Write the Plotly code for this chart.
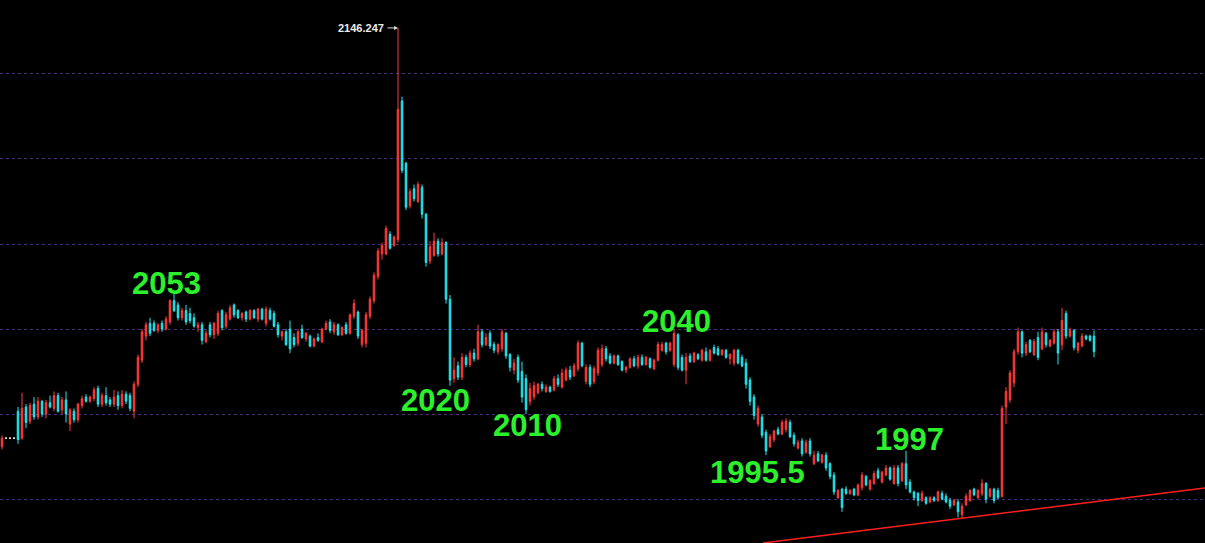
import plotly.graph_objects as go

# Data (prices, one candle per bar)
opens = [
    1998.5, 2001.5, 2001.5, 2001.5, 2011.0, 2001.5, 2012.5, 2007.5, 2013.5, 2009.0,
    2014.5, 2010.0, 2014.0, 2012.0, 2016.5, 2011.5, 2015.0, 2006.5, 2011.0, 2008.0,
    2013.0, 2016.0, 2014.5, 2015.5, 2019.0, 2013.5, 2016.5, 2015.0, 2013.5, 2016.5,
    2013.0, 2017.0, 2016.5, 2011.0, 2020.5, 2029.0, 2037.5, 2042.0, 2042.0, 2039.5,
    2042.0, 2040.0, 2042.5, 2050.0, 2048.5, 2044.0, 2046.5, 2045.5, 2044.0, 2040.5,
    2041.5, 2035.5, 2041.5, 2038.0, 2038.5, 2046.5, 2041.0, 2043.5, 2048.5, 2046.5,
    2044.0, 2046.0, 2043.5, 2046.5, 2043.5, 2047.0, 2042.0, 2046.5, 2045.5, 2041.5,
    2037.5, 2039.0, 2040.0, 2037.0, 2035.0, 2040.0, 2036.5, 2037.5, 2034.0, 2037.0,
    2035.5, 2040.0, 2042.5, 2039.0, 2041.5, 2038.0, 2041.5, 2038.5, 2044.5, 2046.0,
    2034.5, 2035.0, 2044.5, 2050.0, 2058.5, 2066.5, 2066.5, 2073.5, 2069.5, 2071.5,
    2120.5, 2098.5, 2083.5, 2089.5, 2085.0, 2090.0, 2080.5, 2064.0, 2066.0, 2071.0,
    2066.5, 2070.5, 2050.5, 2022.5, 2027.0, 2023.0, 2030.0, 2027.5, 2031.5, 2029.5,
    2039.0, 2034.5, 2038.5, 2034.5, 2032.0, 2033.0, 2038.5, 2031.0, 2025.5, 2030.0,
    2025.0, 2022.5, 2014.5, 2016.0, 2017.5, 2020.5, 2018.0, 2019.5, 2018.5, 2022.5,
    2019.5, 2022.0, 2025.5, 2023.5, 2026.0, 2035.0, 2021.5, 2026.5, 2021.5, 2024.5,
    2027.5, 2033.0, 2030.5, 2028.0, 2030.5, 2028.5, 2025.5, 2026.5, 2029.5, 2027.0,
    2030.0, 2027.5, 2029.5, 2026.0, 2029.0, 2032.5, 2035.0, 2032.5, 2027.5, 2038.0,
    2030.0, 2025.5, 2030.5, 2028.5, 2031.0, 2029.0, 2032.0, 2029.0, 2033.5, 2033.0,
    2031.0, 2032.5, 2029.5, 2028.0, 2032.5, 2030.0, 2028.0, 2022.0, 2016.0, 2006.5,
    2009.0, 2003.5, 1998.5, 2001.0, 2004.5, 2003.0, 2004.5, 2007.0, 2002.5, 1998.0,
    2000.5, 1996.5, 2000.5, 1992.5, 1996.0, 1993.0, 1995.5, 1992.5, 1988.5, 1980.5,
    1983.5, 1983.5, 1982.0, 1983.5, 1981.5, 1984.0, 1988.0, 1983.5, 1985.5, 1990.0,
    1986.0, 1988.5, 1991.0, 1985.5, 1991.0, 1986.5, 1992.5, 1986.0, 1982.5, 1982.0,
    1979.5, 1980.5, 1979.0, 1980.5, 1979.5, 1982.0, 1981.0, 1979.5, 1978.0, 1979.0,
    1974.5, 1978.0, 1979.5, 1983.5, 1980.5, 1982.0, 1985.5, 1981.0, 1983.5, 1983.0,
    1981.0, 2012.5, 2015.0, 2021.0, 2032.0, 2039.0, 2031.5, 2036.0, 2031.0, 2037.0,
    2033.0, 2038.5, 2034.0, 2035.0, 2039.0, 2034.5, 2045.5, 2037.5, 2039.5, 2032.5,
    2034.0, 2037.5, 2037.5, 2037.5,
]
highs = [
    2002.5, 2001.5, 2001.5, 2001.5, 2012.5, 2017.5, 2013.5, 2014.0, 2016.0, 2016.0,
    2015.0, 2015.0, 2016.5, 2018.0, 2017.5, 2016.0, 2018.0, 2012.0, 2012.0, 2014.0,
    2016.5, 2017.0, 2016.5, 2019.5, 2020.0, 2017.5, 2019.5, 2016.0, 2018.5, 2018.0,
    2018.5, 2018.0, 2017.5, 2021.5, 2031.0, 2040.0, 2042.5, 2044.0, 2043.0, 2042.0,
    2043.0, 2044.5, 2050.5, 2053.0, 2049.5, 2047.5, 2048.5, 2047.5, 2045.5, 2042.5,
    2042.5, 2039.5, 2042.5, 2042.5, 2046.5, 2047.0, 2046.0, 2048.5, 2049.0, 2047.0,
    2046.0, 2046.5, 2047.0, 2047.0, 2047.5, 2047.5, 2048.0, 2047.5, 2046.5, 2042.5,
    2039.5, 2040.0, 2043.0, 2038.5, 2040.0, 2041.5, 2039.0, 2038.0, 2037.0, 2038.5,
    2040.5, 2043.0, 2043.5, 2042.5, 2042.0, 2041.0, 2042.5, 2045.5, 2050.5, 2046.5,
    2040.0, 2046.0, 2051.5, 2060.0, 2068.5, 2070.5, 2076.5, 2074.5, 2073.0, 2146.247,
    2122.0, 2099.0, 2089.5, 2091.0, 2092.0, 2091.0, 2081.0, 2071.0, 2074.0, 2072.0,
    2072.0, 2071.0, 2052.0, 2030.0, 2028.5, 2031.5, 2031.0, 2032.5, 2033.0, 2041.5,
    2040.0, 2038.5, 2039.5, 2035.5, 2035.0, 2040.0, 2039.0, 2031.5, 2029.5, 2031.0,
    2028.5, 2024.0, 2021.0, 2021.5, 2021.0, 2021.5, 2020.5, 2020.0, 2023.5, 2024.0,
    2026.0, 2026.5, 2027.0, 2028.0, 2036.0, 2035.5, 2027.5, 2027.5, 2027.0, 2033.5,
    2034.5, 2034.0, 2031.5, 2031.0, 2031.0, 2029.0, 2027.0, 2030.0, 2030.5, 2031.0,
    2031.0, 2030.5, 2030.0, 2029.5, 2035.5, 2035.5, 2035.5, 2035.5, 2040.0, 2038.5,
    2031.0, 2031.5, 2031.5, 2032.0, 2031.5, 2033.0, 2033.5, 2033.0, 2034.5, 2034.0,
    2033.0, 2033.0, 2031.5, 2033.0, 2033.0, 2031.0, 2029.5, 2023.0, 2017.0, 2013.0,
    2010.0, 2004.5, 2003.0, 2004.5, 2005.5, 2008.0, 2008.5, 2008.0, 2003.5, 2001.0,
    2001.5, 2001.0, 2001.5, 1997.0, 1997.0, 1996.0, 1996.5, 1993.0, 1989.5, 1983.5,
    1984.0, 1984.5, 1983.5, 1984.0, 1985.5, 1989.5, 1988.5, 1987.0, 1990.0, 1991.0,
    1990.0, 1992.0, 1991.5, 1992.0, 1992.0, 1993.0, 1997.0, 1987.0, 1983.0, 1982.5,
    1983.0, 1981.0, 1981.0, 1981.0, 1983.0, 1983.0, 1982.0, 1980.5, 1980.0, 1980.0,
    1978.5, 1982.0, 1983.5, 1984.0, 1983.5, 1987.0, 1986.0, 1984.0, 1984.0, 1984.0,
    2013.0, 2019.5, 2025.5, 2033.0, 2040.5, 2039.5, 2035.5, 2036.5, 2036.5, 2039.0,
    2040.5, 2039.0, 2036.5, 2040.0, 2040.0, 2047.5, 2046.5, 2040.5, 2040.0, 2035.5,
    2038.5, 2038.0, 2038.0, 2039.5,
]
lows = [
    1997.5, 2001.5, 2001.5, 2001.5, 1999.5, 2001.0, 2005.0, 2006.5, 2008.0, 2008.0,
    2009.0, 2008.5, 2012.0, 2011.0, 2010.5, 2010.0, 2007.0, 2004.0, 2007.0, 2007.0,
    2012.0, 2014.0, 2014.0, 2014.5, 2012.5, 2012.5, 2013.0, 2012.5, 2012.5, 2011.5,
    2012.0, 2013.5, 2011.0, 2008.5, 2019.5, 2028.0, 2036.0, 2037.5, 2039.0, 2038.5,
    2039.0, 2039.5, 2041.5, 2046.0, 2043.0, 2043.0, 2041.5, 2042.0, 2040.5, 2039.0,
    2034.5, 2035.0, 2037.0, 2036.5, 2037.5, 2039.5, 2040.0, 2043.0, 2044.0, 2043.5,
    2043.0, 2042.5, 2043.0, 2043.5, 2042.5, 2043.0, 2041.0, 2043.0, 2040.5, 2037.0,
    2036.0, 2034.0, 2031.5, 2033.5, 2034.0, 2036.5, 2035.5, 2033.5, 2033.5, 2035.5,
    2035.0, 2039.5, 2038.5, 2038.0, 2037.5, 2037.5, 2038.0, 2038.0, 2043.5, 2036.5,
    2033.5, 2033.5, 2043.5, 2049.0, 2057.5, 2064.5, 2066.0, 2068.0, 2069.0, 2070.5,
    2095.0, 2082.0, 2082.5, 2085.0, 2084.5, 2079.0, 2062.0, 2063.0, 2065.5, 2065.5,
    2066.0, 2049.0, 2020.0, 2021.0, 2022.0, 2022.0, 2026.5, 2026.5, 2028.5, 2029.0,
    2033.5, 2034.0, 2033.0, 2031.5, 2031.0, 2032.0, 2029.5, 2025.0, 2024.0, 2021.0,
    2014.0, 2010.0, 2013.0, 2015.0, 2017.0, 2018.0, 2017.5, 2017.5, 2018.0, 2019.5,
    2019.0, 2021.5, 2022.0, 2023.0, 2025.0, 2026.5, 2020.5, 2019.5, 2020.5, 2023.5,
    2026.5, 2028.5, 2027.5, 2027.5, 2027.0, 2025.0, 2024.5, 2026.0, 2026.5, 2026.0,
    2027.0, 2027.0, 2026.0, 2025.5, 2028.5, 2032.0, 2031.0, 2032.0, 2026.5, 2025.5,
    2025.0, 2020.5, 2028.0, 2028.0, 2029.0, 2028.5, 2028.5, 2028.5, 2031.0, 2030.5,
    2030.5, 2029.5, 2027.5, 2027.0, 2027.5, 2026.5, 2019.0, 2013.0, 2008.0, 2005.5,
    2001.5, 1995.5, 1998.0, 2000.0, 2002.5, 2002.5, 2003.5, 2001.5, 1998.5, 1997.5,
    1995.0, 1996.0, 1995.0, 1992.0, 1993.0, 1992.5, 1990.0, 1987.0, 1981.5, 1980.0,
    1975.5, 1981.5, 1981.5, 1981.0, 1981.0, 1983.0, 1984.5, 1983.0, 1985.0, 1987.0,
    1985.5, 1988.0, 1986.5, 1985.0, 1984.5, 1986.0, 1983.5, 1982.0, 1979.5, 1977.5,
    1979.0, 1978.0, 1978.5, 1979.0, 1979.0, 1979.5, 1978.5, 1976.5, 1977.5, 1973.5,
    1973.0, 1977.5, 1979.0, 1981.0, 1980.0, 1981.0, 1978.5, 1980.5, 1978.5, 1980.0,
    1980.5, 2006.5, 2014.0, 2019.5, 2031.0, 2030.0, 2030.5, 2031.5, 2030.5, 2029.0,
    2032.5, 2033.5, 2033.5, 2034.5, 2027.5, 2032.5, 2036.5, 2037.0, 2032.5, 2031.5,
    2033.5, 2036.0, 2035.5, 2030.0,
]
closes = [
    2001.5, 2001.5, 2001.5, 2001.5, 2001.0, 2012.0, 2007.0, 2013.0, 2009.0, 2014.5,
    2010.0, 2014.0, 2012.5, 2016.5, 2011.0, 2015.0, 2010.0, 2011.5, 2008.0, 2013.5,
    2015.5, 2014.5, 2016.0, 2018.5, 2013.5, 2016.5, 2014.0, 2013.5, 2016.0, 2013.0,
    2017.0, 2014.5, 2012.0, 2020.5, 2030.0, 2039.0, 2041.5, 2038.5, 2039.5, 2041.5,
    2040.0, 2043.5, 2050.0, 2046.5, 2044.0, 2046.5, 2042.5, 2043.0, 2041.0, 2041.5,
    2036.0, 2038.5, 2038.0, 2042.0, 2045.5, 2040.5, 2045.0, 2047.5, 2045.0, 2044.0,
    2045.5, 2043.5, 2046.5, 2044.0, 2047.0, 2043.5, 2047.0, 2043.5, 2041.0, 2038.0,
    2039.0, 2034.5, 2033.0, 2034.5, 2039.0, 2037.0, 2038.5, 2034.0, 2036.5, 2036.0,
    2040.0, 2042.0, 2039.5, 2041.5, 2038.0, 2040.5, 2038.5, 2045.0, 2049.0, 2037.5,
    2039.5, 2045.0, 2050.5, 2059.0, 2067.5, 2069.5, 2075.5, 2068.5, 2072.5, 2117.5,
    2096.0, 2083.0, 2088.5, 2086.0, 2091.0, 2080.5, 2063.5, 2069.0, 2071.0, 2066.5,
    2070.5, 2050.5, 2022.0, 2025.5, 2023.0, 2030.0, 2027.5, 2031.5, 2029.5, 2039.0,
    2034.5, 2037.0, 2034.0, 2032.5, 2034.5, 2039.0, 2030.5, 2026.5, 2028.0, 2022.0,
    2016.0, 2011.5, 2019.0, 2020.0, 2020.5, 2019.0, 2019.5, 2018.0, 2022.5, 2020.5,
    2024.5, 2025.5, 2023.0, 2027.0, 2035.0, 2027.0, 2026.5, 2020.5, 2026.0, 2032.5,
    2033.0, 2029.5, 2028.0, 2030.5, 2027.5, 2025.5, 2026.5, 2029.5, 2027.0, 2030.0,
    2027.5, 2030.0, 2026.5, 2029.0, 2034.5, 2034.5, 2032.0, 2035.0, 2038.5, 2026.5,
    2025.5, 2030.0, 2028.5, 2031.5, 2029.5, 2032.5, 2029.0, 2032.5, 2031.5, 2031.0,
    2032.5, 2030.0, 2031.0, 2032.5, 2028.0, 2027.0, 2020.5, 2014.5, 2009.5, 2012.0,
    2002.5, 1997.0, 2002.0, 2004.0, 2003.0, 2007.0, 2007.5, 2002.0, 1999.5, 2000.0,
    1996.0, 2000.0, 1996.0, 1995.5, 1993.5, 1995.5, 1991.0, 1988.0, 1982.5, 1983.0,
    1977.0, 1982.0, 1983.0, 1981.5, 1985.0, 1988.5, 1985.0, 1986.5, 1989.0, 1987.5,
    1989.5, 1991.0, 1987.0, 1991.0, 1985.5, 1992.5, 1985.0, 1982.5, 1980.5, 1979.5,
    1982.0, 1978.5, 1980.5, 1979.5, 1982.5, 1980.0, 1979.0, 1977.5, 1979.5, 1975.5,
    1977.5, 1981.0, 1983.0, 1981.5, 1983.0, 1985.5, 1980.0, 1983.5, 1979.5, 1980.5,
    2012.0, 2018.0, 2024.5, 2032.0, 2039.0, 2031.5, 2034.5, 2032.0, 2035.5, 2030.0,
    2039.0, 2034.5, 2036.0, 2039.0, 2031.5, 2043.0, 2037.5, 2039.5, 2033.5, 2035.0,
    2037.5, 2036.5, 2036.0, 2032.0,
]
bars = list(range(len(closes)))

# marked highs / lows
label_texts = ["2053", "2020", "2010", "2040", "1995.5", "1997"]
label_px = [(166, 283), (435, 400), (527, 425), (676, 321), (757, 472), (909, 439)]

peak_value = 2146.247
peak_bar = 99

# support line (bar index, price)
trend_x = [190.25, 300.75]
trend_y = [1964.5, 1983.9]

W, H = 1205, 543
RED = "#ff3a3a"
CYAN = "#22e8f0"

normal = [i for i in bars if opens[i] != closes[i]]
doji = [i for i in bars if opens[i] == closes[i]]

fig = go.Figure()
fig.add_trace(go.Candlestick(
    x=normal,
    open=[opens[i] for i in normal],
    high=[highs[i] for i in normal],
    low=[lows[i] for i in normal],
    close=[closes[i] for i in normal],
    increasing=dict(line=dict(color=RED, width=1), fillcolor=RED),
    decreasing=dict(line=dict(color=CYAN, width=1), fillcolor=CYAN),
    whiskerwidth=0,
    showlegend=False,
    hoverinfo="skip",
))
fig.add_trace(go.Candlestick(
    x=doji,
    open=[opens[i] for i in doji],
    high=[highs[i] for i in doji],
    low=[lows[i] for i in doji],
    close=[closes[i] for i in doji],
    increasing=dict(line=dict(color="white", width=1), fillcolor="white"),
    decreasing=dict(line=dict(color="white", width=1), fillcolor="white"),
    showlegend=False,
    hoverinfo="skip",
))
fig.add_trace(go.Scatter(
    x=trend_x, y=trend_y, mode="lines",
    line=dict(color="#ff1e1e", width=1.5),
    showlegend=False, hoverinfo="skip",
))

for txt, (px, py) in zip(label_texts, label_px):
    fig.add_annotation(
        x=px / W, y=1 - py / H, xref="paper", yref="paper",
        text="<b>%s</b>" % txt, showarrow=False,
        xanchor="center", yanchor="middle",
        font=dict(family="Liberation Sans", size=31, color="#2cf02c"),
    )

# peak value tag with a small arrow pointing at the top of the wick
fig.add_annotation(
    x=peak_bar, y=peak_value, xref="x", yref="y",
    text="", showarrow=True, ax=-12, ay=0,
    arrowhead=2, arrowsize=0.8, arrowwidth=1, arrowcolor="#d8d8d8",
)
fig.add_annotation(
    x=peak_bar, y=peak_value, xref="x", yref="y",
    text="<b>%s</b>" % f"{peak_value:.3f}", showarrow=False,
    xanchor="right", yanchor="middle", xshift=-12,
    font=dict(family="Liberation Sans", size=11, color="#ececec"),
)

fig.update_layout(
    width=W, height=H,
    margin=dict(l=0, r=0, t=0, b=0),
    paper_bgcolor="black",
    plot_bgcolor="black",
    boxgap=0.45,
)
fig.update_xaxes(range=[-0.5, 300.75], visible=False,
                 rangeslider=dict(visible=False), showgrid=False)
fig.update_yaxes(range=[1964.5, 2156.1], showticklabels=False,
                 showgrid=True, gridcolor="#4a3070", griddash="dot", gridwidth=1,
                 tick0=1980, dtick=30, zeroline=False, showline=False, ticks="")

fig.write_html("out.html", config={"displayModeBar": False},
               post_script="document.body.style.margin='0';document.body.style.background='black';")
